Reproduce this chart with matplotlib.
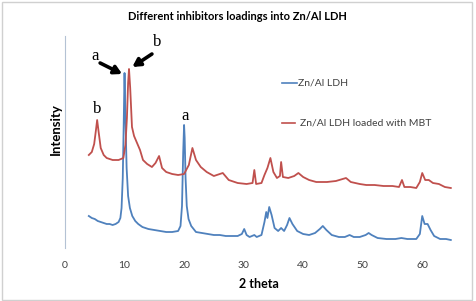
import matplotlib
matplotlib.use("Agg")
import matplotlib.pyplot as plt
from matplotlib.patches import Rectangle

# ---- data (intensity in arbitrary units) ----
blue_x = [4.0, 4.5, 5.0, 5.5, 6.0, 6.5, 7.0, 7.5, 8.0, 8.5, 9.0, 9.3, 9.5, 9.7, 9.85, 10.0, 10.15, 10.35,
          10.6, 10.9, 11.3, 11.8, 12.3, 13.0, 14.0, 15.0, 16.0, 17.0, 18.0, 19.0, 19.4, 19.65, 19.85, 20.0,
          20.1, 20.25, 20.45, 20.75, 21.2, 22.0, 23.0, 24.0, 25.0, 26.0, 27.0, 28.0, 29.0, 29.7, 30.1, 30.5,
          31.0, 31.8, 32.2, 33.0, 33.5, 33.8, 34.0, 34.3, 34.7, 35.2, 35.8, 36.3, 36.8, 37.3, 37.7, 38.2,
          39.0, 40.0, 41.0, 42.0, 42.8, 43.3, 43.9, 44.8, 46.0, 47.0, 47.8, 48.5, 49.5, 50.5, 51.0, 51.5,
          52.5, 54.0, 55.5, 56.5, 57.5, 59.0, 59.6, 60.0, 60.4, 60.9, 61.4, 62.0, 63.0, 64.0, 64.8]
blue_y = [32, 30, 29, 27, 26, 25, 24, 24, 23, 24, 26, 30, 40, 70, 120, 175, 130, 80,
          52, 40, 32, 27, 24, 21, 19, 18, 17, 16, 16, 17, 22, 42, 95, 123,
          110, 70, 42, 29, 22, 16, 15, 14, 13, 13, 12, 12, 12, 14, 19, 13,
          11, 13, 11, 13, 26, 36, 30, 41, 33, 20, 17, 20, 17, 23, 30, 24,
          17, 14, 13, 15, 19, 22, 18, 13, 11, 11, 13, 11, 11, 13, 15, 13,
          10, 9, 9, 10, 9, 9, 14, 32, 24, 24, 18, 12, 9, 9, 8]

red_x = [4.0, 4.5, 4.9, 5.2, 5.4, 5.65, 6.0, 6.5, 7.0, 8.0, 9.0, 9.8, 10.15, 10.4, 10.6, 10.75, 10.95,
         11.25, 11.6, 12.1, 12.6, 13.1, 13.8, 14.6, 15.2, 15.8, 16.3, 17.0, 18.0, 19.0, 20.0, 20.8, 21.4,
         22.0, 22.8, 23.8, 25.0, 26.5, 27.5, 29.0, 30.5, 31.5, 31.8, 32.1, 33.0, 33.5, 34.0, 34.5, 35.0,
         35.6, 36.1, 36.3, 36.6, 37.5, 38.5, 39.2, 40.0, 41.0, 42.2, 44.0, 45.5, 47.2, 48.0, 49.5, 50.6,
         52.0, 53.5, 55.0, 56.1, 56.6, 57.0, 58.0, 59.0, 59.6, 60.0, 60.5, 61.1, 61.8, 62.8, 63.8, 64.8]
red_y = [93, 96, 104, 118, 128, 116, 100, 93, 90, 88, 88, 90, 103, 130, 165, 179, 160,
         121, 112, 105, 98, 88, 84, 81, 85, 92, 80, 76, 74, 73, 74, 83, 100,
         88, 81, 76, 72, 75, 68, 65, 64, 65, 78, 64, 65, 73, 80, 90, 76,
         70, 72, 86, 71, 70, 72, 75, 71, 68, 66, 66, 67, 70, 66, 64, 63,
         63, 62, 62, 61, 68, 61, 61, 60, 66, 75, 68, 68, 65, 64, 61, 60]

series_labels = ["Zn/Al LDH", "Zn/Al LDH loaded with MBT"]
x_ticks = [0, 10, 20, 30, 40, 50, 60]

BLUE = "#4F81BD"
RED = "#C0504D"

fig = plt.figure(figsize=(4.76, 3.01), dpi=100)
fig.patches.append(Rectangle((0.004, 0.004), 0.988, 0.99, transform=fig.transFigure,
                             fill=False, edgecolor="#d0d0d0", linewidth=1.0))

ax = fig.add_axes([65 / 476, (301 - 248) / 301, (452 - 65) / 476, (248 - 36) / 301])
ax.plot(blue_x, blue_y, color=BLUE, linewidth=1.3)
ax.plot(red_x, red_y, color=RED, linewidth=1.3)
ax.set_xlim(0, 65)
ax.set_ylim(0, 212)

for s in ["top", "right", "bottom"]:
    ax.spines[s].set_visible(False)
ax.spines["left"].set_color("#b4c2d4")
ax.spines["left"].set_linewidth(0.8)
ax.set_yticks([])
ax.set_xticks(x_ticks)
ax.tick_params(axis="x", length=0, pad=9, labelsize=7.5, labelcolor="#404040")
for lab in ax.get_xticklabels():
    lab.set_family("Lato")

ax.set_xlabel("2 theta", fontsize=9, fontweight="bold", family="Lato", labelpad=6)
fig.text(56 / 476, 1 - 129 / 301, "Intensity", rotation=90, ha="center", va="center",
         fontsize=9.5, fontweight="bold", family="Lato")
fig.text(237 / 476, 1 - 16 / 301, "Different inhibitors loadings into Zn/Al LDH",
         ha="center", va="center", fontsize=8, fontweight="bold", family="Lato")

# legend (manual, Excel-like placement)
fig.add_artist(plt.Line2D([282 / 476, 297 / 476], [1 - 83 / 301, 1 - 83 / 301], color=BLUE, lw=1.2))
fig.text(298 / 476, 1 - 83 / 301, series_labels[0], ha="left", va="center", fontsize=7.5,
         family="Lato", color="#404040")
fig.add_artist(plt.Line2D([282 / 476, 295 / 476], [1 - 123 / 301, 1 - 123 / 301], color=RED, lw=1.2))
fig.text(300 / 476, 1 - 123 / 301, series_labels[1], ha="left", va="center", fontsize=7.5,
         family="Lato", color="#404040")

# annotations
serif = "Liberation Serif"
arrow = dict(arrowstyle="-|>,head_width=0.25,head_length=0.45", color="black", lw=2.6,
             shrinkA=0, shrinkB=0)
ax.text(5.0, 192, "a", fontsize=12, family=serif, ha="center", va="center")
ax.annotate("", xy=(9.6, 174), xytext=(5.9, 185), arrowprops=arrow)
ax.text(15.5, 206, "b", fontsize=12, family=serif, ha="center", va="center")
ax.annotate("", xy=(11.3, 181), xytext=(14.6, 194), arrowprops=arrow)
ax.text(5.4, 139, "b", fontsize=12, family=serif, ha="center", va="center")
ax.text(20.1, 132, "a", fontsize=12, family=serif, ha="center", va="center")

fig.savefig("out.png", dpi=100)
